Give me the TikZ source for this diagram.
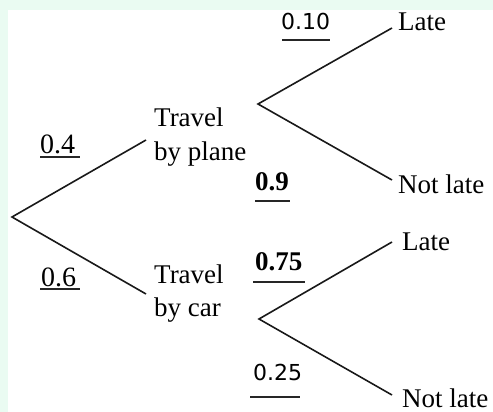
\documentclass[tikz,border=0pt]{standalone}
\usepackage{fontspec}
\setmainfont{Liberation Serif}
\newfontfamily\answerfont{DejaVu Sans}
\usetikzlibrary{calc}
\definecolor{mint}{HTML}{EAFBF2}
\tikzset{
  branch/.style={line width=1.6pt, black!90},
  outcome/.style={anchor=base west, inner sep=0pt, font=\fontsize{27}{33}\selectfont, align=left},
  prob/.style={anchor=base west, inner sep=0pt, font=\fontsize{28}{30}\selectfont},
  probbold/.style={prob, font=\fontsize{27}{30}\selectfont\bfseries},
  probhand/.style={anchor=base west, inner sep=0pt, font=\answerfont\fontsize{22}{25}\selectfont},
  uline/.style={line width=1.4pt, black!85}
}
\begin{document}
\begin{tikzpicture}[x=1pt,y=-1pt]
  % page background with mint margin
  \fill[mint] (0,0) rectangle (493,412);
  \fill[white] (8,10) rectangle (493,412);
  \useasboundingbox (0,0) rectangle (493,412);

  % branch points
  \coordinate (root) at (12,217);
  \coordinate (plane) at (146,140);
  \coordinate (car) at (146,294);
  \coordinate (ps) at (258,104);
  \coordinate (pl) at (392,28);
  \coordinate (pn) at (392,180);
  \coordinate (cs) at (259,319);
  \coordinate (cl) at (392,242);
  \coordinate (cn) at (392,395);

  % branches
  \draw[branch] (plane) -- (root) -- (car);
  \draw[branch] (pl) -- (ps) -- (pn);
  \draw[branch] (cl) -- (cs) -- (cn);

  % outcome labels (base = baseline of the last line)
  \node[outcome] (tplane) at (154,160) {Travel\\by plane};
  \node[outcome] (tcar) at (154,316) {Travel\\by car};
  \node[outcome] (late1) at (398,31) {Late};
  \node[outcome] (nlate1) at (398,193) {Not late};
  \node[outcome] (late2) at (402,250) {Late};
  \node[outcome] (nlate2) at (402,407) {Not late};

  % probabilities with underlines
  \node[prob] (p04) at (40,153) {0.4};
  \draw[uline] ($(p04.base west)+(0,4)$) -- ++(40,0);
  \node[prob] (p06) at (41,286) {0.6};
  \draw[uline] ($(p06.base west)+(-1,3)$) -- ++(40,0);
  \node[probhand] (p010) at (281,30) {0.10};
  \draw[uline] ($(p010.base west)+(1,10)$) -- ++(48,0);
  \node[probbold] (p09) at (255,190) {0.9};
  \draw[uline] ($(p09.base west)+(0,11)$) -- ++(35,0);
  \node[probbold] (p075) at (255,270) {0.75};
  \draw[uline] ($(p075.base west)+(-2,12)$) -- ++(52,0);
  \node[probhand] (p025) at (253,380) {0.25};
  \draw[uline] ($(p025.base west)+(-3,17)$) -- ++(50,0);
\end{tikzpicture}
\end{document}
